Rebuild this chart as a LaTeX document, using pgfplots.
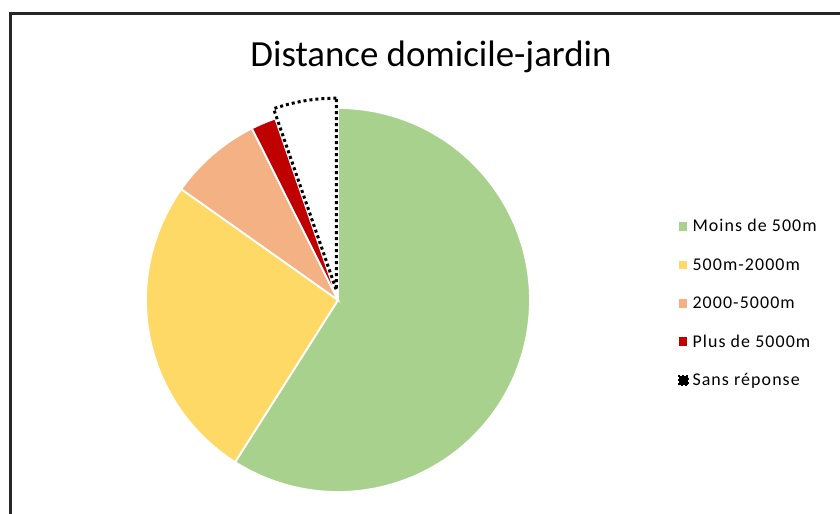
\documentclass[border=0pt]{standalone}
\usepackage{fontspec}
\setmainfont{Carlito}
\newfontfamily\legfont[LetterSpace=6]{Carlito}
\usepackage{pgfplots}
\usepackage{pgfplotstable}
\pgfplotsset{compat=1.18}
\definecolor{cgreen}{RGB}{169,209,142}
\definecolor{cyellow}{RGB}{255,217,102}
\definecolor{corange}{RGB}{244,177,131}
\definecolor{cred}{RGB}{192,0,0}
\pgfplotstableread{
label value
Moins 59.0
Mid 25.8
Far 7.8
Plus 2.1
Sans 5.3
}\piedata
\pgfplotstablegetelem{0}{value}\of\piedata \let\vA\pgfplotsretval
\pgfplotstablegetelem{1}{value}\of\piedata \let\vB\pgfplotsretval
\pgfplotstablegetelem{2}{value}\of\piedata \let\vC\pgfplotsretval
\pgfplotstablegetelem{3}{value}\of\piedata \let\vD\pgfplotsretval
\pgfplotstablegetelem{4}{value}\of\piedata \let\vE\pgfplotsretval
\pgfmathsetmacro\aA{90}
\pgfmathsetmacro\aB{\aA-3.6*\vA}
\pgfmathsetmacro\aC{\aB-3.6*\vB}
\pgfmathsetmacro\aD{\aC-3.6*\vC}
\pgfmathsetmacro\aE{\aD-3.6*\vD}
\pgfmathsetmacro\aF{\aE-3.6*\vE}
\pgfmathsetmacro\aMid{(\aE+\aF)/2}
\pgfmathsetmacro\ex{0.052*cos(\aMid)}
\pgfmathsetmacro\ey{0.052*sin(\aMid)}
\begin{document}
\begin{tikzpicture}
\useasboundingbox (0,0) rectangle (840bp,514bp);
\fill[white] (0,0) rectangle (840bp,514bp);
\draw[line width=3bp, black!85] (10.5bp,0) -- (10.5bp,500.5bp) -- (840bp,500.5bp);
\node[font=\fontsize{37}{44}\selectfont, anchor=base] at (431bp,447bp) {Distance domicile-jardin};
\begin{axis}[
  at={(338bp,214bp)}, anchor=center,
  scale only axis, width=384bp, height=384bp,
  xmin=-1, xmax=1, ymin=-1, ymax=1,
  axis lines=none, clip=false,
  legend style={draw=none, fill=none, inner sep=0pt,
    at={(axis description cs:1.385,0.491)}, anchor=west,
    font=\legfont\fontsize{18}{21}\selectfont, row sep=21bp,
    cells={anchor=west}},
]
\addplot[fill=cgreen, draw=white, line width=1.8bp, domain=\aB:\aA, samples=120,
  legend image code/.code={\fill[cgreen] (1.5bp,-3.5bp) rectangle (8.5bp,3.5bp); \path (11bp,0);}]
  ({cos(x)},{sin(x)}) -- (axis cs:0,0) -- cycle;
\addlegendentry{Moins de 500m}
\addplot[fill=cyellow, draw=white, line width=1.8bp, domain=\aC:\aB, samples=60,
  legend image code/.code={\fill[cyellow] (1.5bp,-3.5bp) rectangle (8.5bp,3.5bp); \path (11bp,0);}]
  ({cos(x)},{sin(x)}) -- (axis cs:0,0) -- cycle;
\addlegendentry{500m-2000m}
\addplot[fill=corange, draw=white, line width=1.8bp, domain=\aD:\aC, samples=30,
  legend image code/.code={\fill[corange] (1.5bp,-3.5bp) rectangle (8.5bp,3.5bp); \path (11bp,0);}]
  ({cos(x)},{sin(x)}) -- (axis cs:0,0) -- cycle;
\addlegendentry{2000-5000m}
\addplot[fill=cred, draw=white, line width=1.8bp, domain=\aE:\aD, samples=10,
  legend image code/.code={\fill[cred] (1.5bp,-3.5bp) rectangle (8.5bp,3.5bp); \path (11bp,0);}]
  ({cos(x)},{sin(x)}) -- (axis cs:0,0) -- cycle;
\addlegendentry{Plus de 5000m}
\addplot[fill=white, draw=black, line width=3bp, dash pattern=on 3bp off 3bp,
  domain=\aF:\aE, samples=20,
  legend image code/.code={\draw[black, line width=1.8bp, dash pattern=on 1.8bp off 2.2bp] (0.9bp,-4.5bp) rectangle (9.9bp,4.5bp); \path (11bp,0);}]
  ({\ex+cos(x)},{\ey+sin(x)}) -- (axis cs:\ex,\ey) -- cycle;
\addlegendentry{Sans réponse}
\end{axis}
\end{tikzpicture}
\end{document}
